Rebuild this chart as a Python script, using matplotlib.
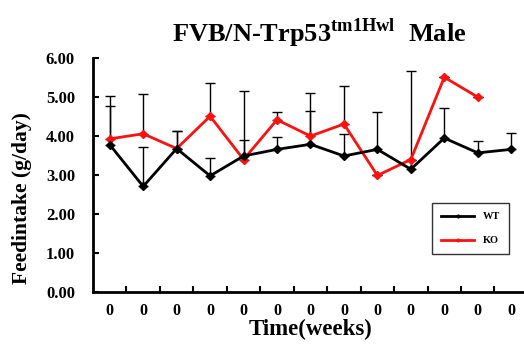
import numpy as np
import matplotlib
matplotlib.use("Agg")
import matplotlib.pyplot as plt

plt.rcParams["font.family"] = "Liberation Serif"
plt.rcParams["font.weight"] = "bold"
plt.rcParams["mathtext.fontset"] = "custom"
plt.rcParams["mathtext.rm"] = "Liberation Serif:bold"
plt.rcParams["mathtext.bf"] = "Liberation Serif:bold"

# data
week_labels = ["0"] * 13
wt_mean = [3.78, 2.71, 3.68, 2.98, 3.49, 3.66, 3.79, 3.49, 3.66, 3.15, 3.95, 3.57, 3.66]
wt_err = [0.98, 1.01, 0.46, 0.46, 0.42, 0.32, 0.86, 0.57, 0.95, 2.53, 0.76, 0.30, 0.43]
ko_mean = [3.93, 4.06, 3.68, 4.51, 3.40, 4.42, 4.00, 4.31, 2.99, 3.40, 5.51, 5.00]
ko_err = [1.10, 1.01, 0.46, 0.85, 1.75, 0.21, 1.10, 0.97, 0.0, 0.0, 0.0, 0.0]

fig = plt.figure(figsize=(5.24, 3.44), dpi=100)
ax = fig.add_axes([0.1775, 0.151, 0.83, 0.68])

x_wt = np.arange(len(wt_mean))
x_ko = np.arange(len(ko_mean))

ax.errorbar(x_wt, wt_mean, yerr=[np.zeros(len(wt_err)), wt_err], fmt="none",
            ecolor="black", elinewidth=1, capsize=3.5, capthick=1, zorder=1)
ax.errorbar(x_ko, ko_mean, yerr=[np.zeros(len(ko_err)), ko_err], fmt="none",
            ecolor="black", elinewidth=1, capsize=3.5, capthick=1, zorder=1)
ax.plot(x_wt, wt_mean, color="black", lw=2, marker="D", ms=4.5, label="WT", zorder=3)
ax.plot(x_ko, ko_mean, color="#ff1010", lw=2, marker="D", ms=4.5, label="KO", zorder=2)

ax.set_xlim(-0.5, 12.5)
ax.set_ylim(0, 6)
ax.set_yticks(np.arange(0, 7, 1))
ax.set_yticklabels([f"{v:.2f}" for v in np.arange(0, 7, 1)], fontsize=12, fontweight="bold")
ax.set_xticks(np.arange(0.5, 12.5, 1))
ax.set_xticklabels([])
ax.set_xticks(x_wt, minor=True)
ax.set_xticklabels(week_labels, minor=True, fontsize=11.5, fontweight="bold")
ax.tick_params(axis="x", which="minor", length=0, pad=8)
ax.tick_params(axis="x", which="major", direction="in", length=4, width=1.5)
ax.tick_params(axis="y", direction="in", length=4, width=1.5, pad=13)

for s in ["top", "right"]:
    ax.spines[s].set_visible(False)
ax.spines["left"].set_linewidth(2)
ax.spines["bottom"].set_linewidth(2)

ax.set_xlabel("Time(weeks)", fontsize=16.5, fontweight="bold", labelpad=0)
ax.set_ylabel("Feedintake (g/day)", fontsize=15.5, fontweight="bold")
ax.yaxis.set_label_coords(-0.14, 0.40)
fig.text(0.61, 0.905, r"FVB/N-Trp53$^{\mathrm{tm1Hwl}}$  Male", ha="center", va="center",
         fontsize=19, fontweight="bold")

leg = ax.legend(loc="lower right", bbox_to_anchor=(0.968, 0.14), fontsize=7.5,
                frameon=True, fancybox=False, edgecolor="black", markerscale=0.35,
                handlelength=3.2, labelspacing=1.4, borderpad=0.85)
leg.get_frame().set_linewidth(1)

fig.savefig("out.png", dpi=100)
